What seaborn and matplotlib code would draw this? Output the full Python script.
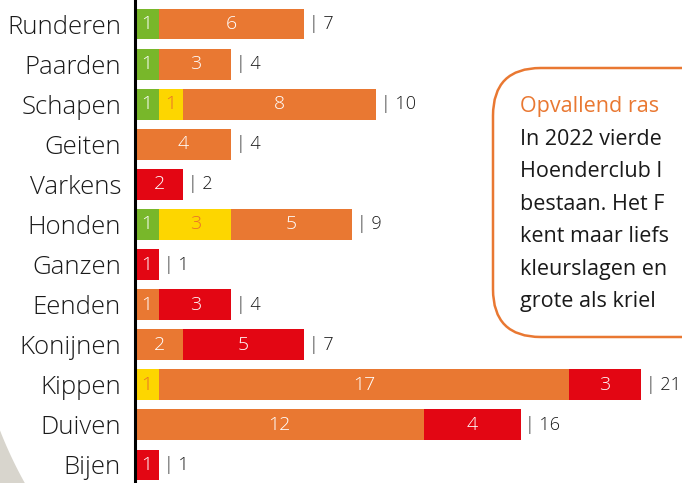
import seaborn as sns
import matplotlib.pyplot as plt
import numpy as np
import pandas as pd
from matplotlib.patches import FancyBboxPatch, Polygon

animals = ['Runderen', 'Paarden', 'Schapen', 'Geiten', 'Varkens', 'Honden',
           'Ganzen', 'Eenden', 'Konijnen', 'Kippen', 'Duiven', 'Bijen']
green = [1, 1, 1, 0, 0, 1, 0, 0, 0, 0, 0, 0]
yellow = [0, 0, 1, 0, 0, 3, 0, 0, 0, 1, 0, 0]
orange = [6, 3, 8, 4, 0, 5, 0, 1, 2, 17, 12, 0]
red = [0, 0, 0, 0, 2, 0, 1, 3, 5, 3, 4, 1]

box_title = 'Opvallend ras'
box_lines = ['In 2022 vierde', 'Hoenderclub l', 'bestaan. Het F', 'kent maar liefs',
             'kleurslagen en', 'grote als kriel']

c_green = '#78b72a'
c_yellow = '#fdd600'
c_orange = '#e97832'
c_red = '#e30613'

df = pd.DataFrame({'dier': animals, 'g': green, 'y': yellow, 'o': orange, 'r': red})
df['c1'] = df['g']
df['c2'] = df['c1'] + df['y']
df['c3'] = df['c2'] + df['o']
df['tot'] = df['c3'] + df['r']

sns.set_style('white')
plt.rcParams['font.family'] = ['Open Sans', 'DejaVu Sans']

fig = plt.figure(figsize=(6.82, 4.83), dpi=100)
W, H = 682, 483

# grey corner shape bottom left (outside a big circle)
a0 = np.arctan2(156, -400)
a1 = np.arctan2(209, -375)
ang = np.linspace(a0, a1, 60)
arc = [((400 + 429.5 * np.cos(a)) / W, 1 - (274 + 429.5 * np.sin(a)) / H) for a in ang]
fig.add_artist(Polygon(arc + [(0, 0)], closed=True, transform=fig.transFigure,
                       facecolor='#d8d5cd', edgecolor='none', zorder=0))

ax = fig.add_axes([135 / W, 0, 547 / W, 1])
ax.patch.set_alpha(0)

layers = [('tot', c_red), ('c3', c_orange), ('c2', c_yellow), ('c1', c_green)]
for col, colr in layers:
    sns.barplot(data=df, x=col, y='dier', orient='h', color=colr, width=0.77,
                saturation=1, ax=ax, linewidth=0)

ax.set_xlim(0, 547 / 24.1)
ax.set_ylim(11.45, -0.6)

for i, row in df.iterrows():
    for key, base, tc in [('g', 0, 'white'), ('y', row['c1'], '#e9712a'),
                          ('o', row['c2'], 'white'), ('r', row['c3'], 'white')]:
        v = row[key]
        if v > 0:
            ax.text(base + v / 2, i, str(v), ha='center', va='center',
                    color=tc, fontsize=14, fontweight='light')
    ax.text(row['tot'] + 0.2, i, '| ' + str(row['tot']), ha='left', va='center',
            color='#1a1a1a', fontsize=13, fontweight='light')

ax.set_xlabel('')
ax.set_ylabel('')
ax.set_xticks([])
for s in ['top', 'right', 'bottom']:
    ax.spines[s].set_visible(False)
ax.spines['left'].set_linewidth(2.2)
ax.spines['left'].set_color('black')
ax.tick_params(axis='y', length=0, pad=10, labelsize=18.5, labelcolor='#1a1a1a')
for lab in ax.get_yticklabels():
    lab.set_fontweight('light')

# text box
box = FancyBboxPatch((493 / W, 1 - 337 / H), 260 / W, 269 / H,
                     boxstyle='round,pad=0,rounding_size=0.07',
                     transform=fig.transFigure, facecolor='none',
                     edgecolor=c_orange, linewidth=1.8, clip_on=False,
                     mutation_aspect=W / H)
fig.add_artist(box)
fig.text(520 / W, 1 - 107 / H, box_title, color=c_orange, fontsize=15.5,
         ha='left', va='center')
for k, line in enumerate(box_lines):
    fig.text(520 / W, 1 - (107 + 32.5 * (k + 1)) / H, line, color='#1a1a1a',
             fontsize=15.5, ha='left', va='center')

fig.savefig('out.png', dpi=100)
